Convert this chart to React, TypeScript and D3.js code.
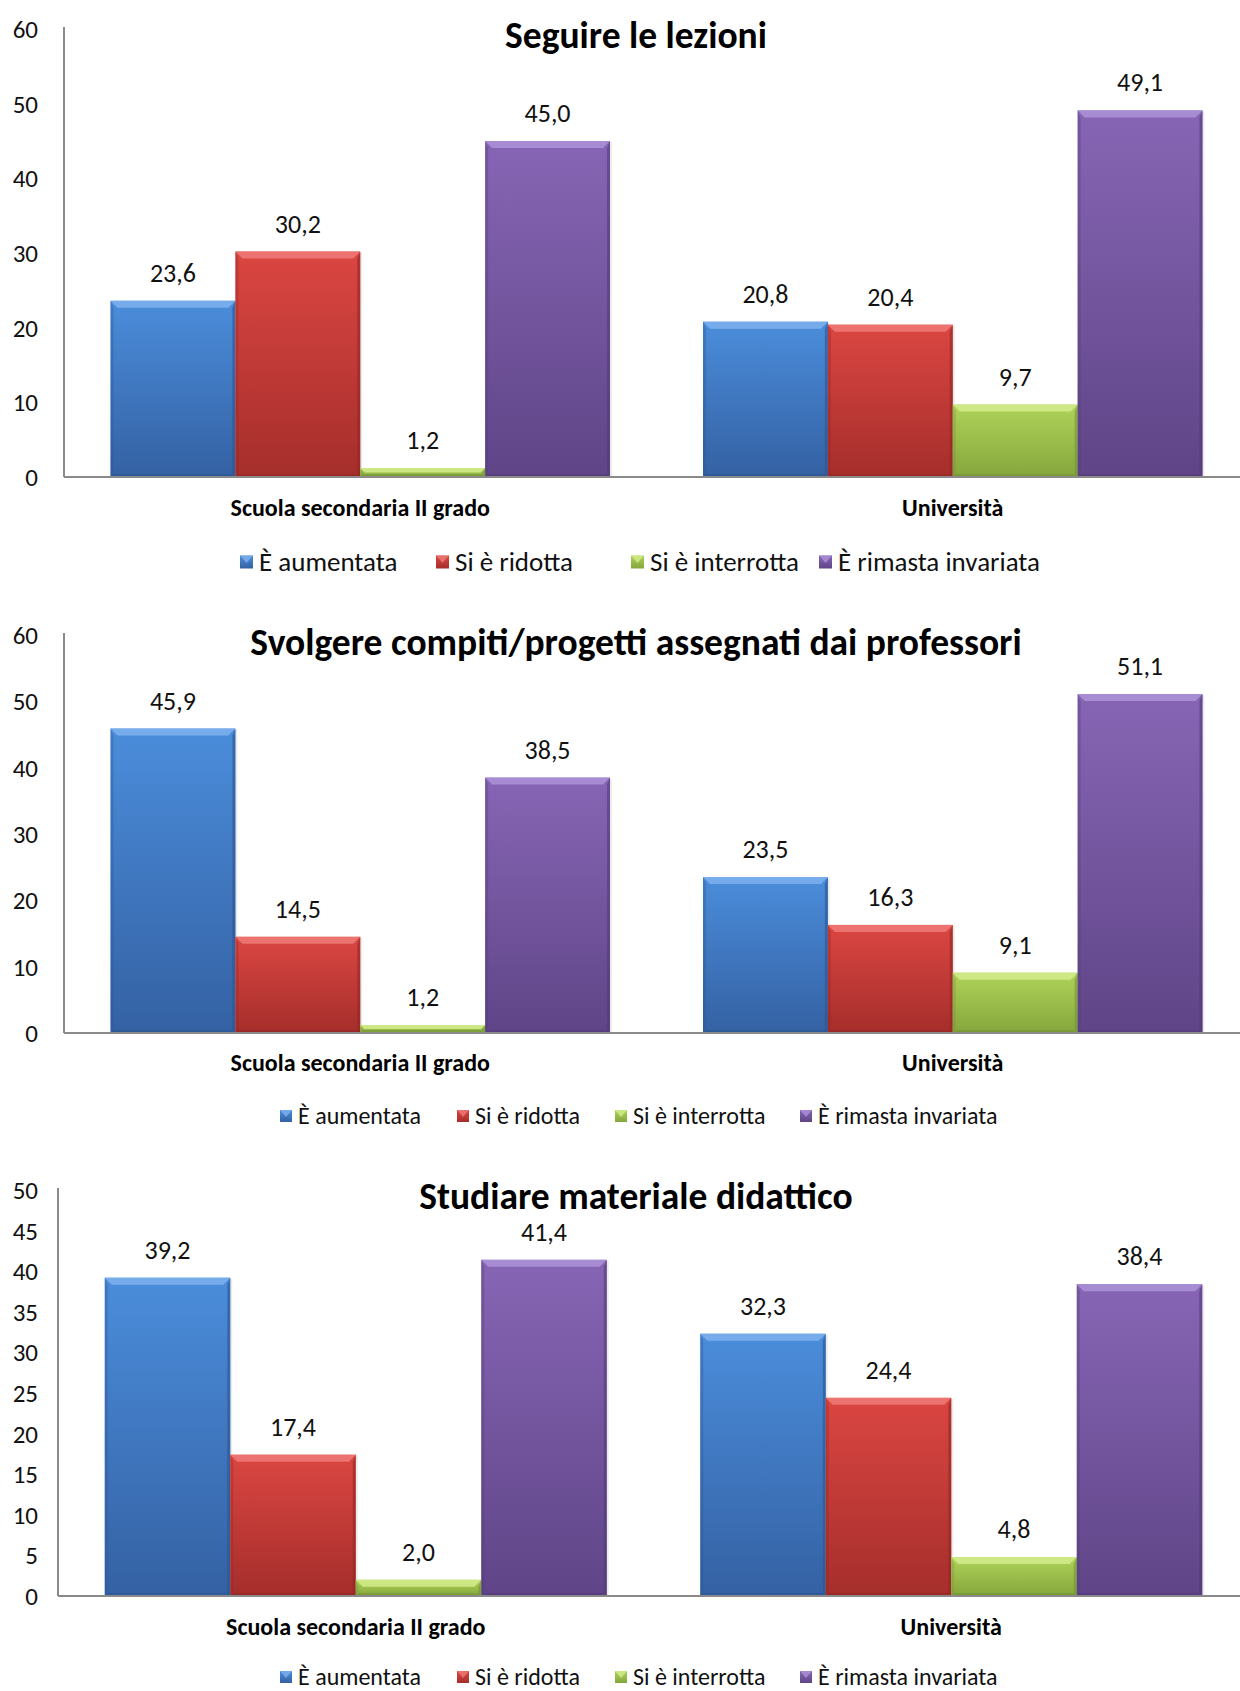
import React from "react";
import * as d3 from "d3";

const categories = ["Scuola secondaria II grado", "Università"];
const seriesNames = ["È aumentata", "Si è ridotta", "Si è interrotta", "È rimasta invariata"];

const titleLezioni = "Seguire le lezioni";
const titleCompiti = "Svolgere compiti/progetti assegnati dai professori";
const titleStudiare = "Studiare materiale didattico";

// values[category][series]
const lezioniValues = [
  [23.6, 30.2, 1.2, 45.0],
  [20.8, 20.4, 9.7, 49.1],
];
const compitiValues = [
  [45.9, 14.5, 1.2, 38.5],
  [23.5, 16.3, 9.1, 51.1],
];
const studiareValues = [
  [39.2, 17.4, 2.0, 41.4],
  [32.3, 24.4, 4.8, 38.4],
];

const ticks60 = [0, 10, 20, 30, 40, 50, 60];
const ticks50 = [0, 5, 10, 15, 20, 25, 30, 35, 40, 45, 50];

// styles
const palette = [
  { top: "#4b8ddb", bottom: "#3461a3", light: "#7fb2ee", dark: "#2c5590" },
  { top: "#db4642", bottom: "#a52e2b", light: "#ee7b78", dark: "#922624" },
  { top: "#b0d35a", bottom: "#84a63c", light: "#d2ec8c", dark: "#749334" },
  { top: "#8765b5", bottom: "#5f4587", light: "#ad92d8", dark: "#533b78" },
];

const FONT = "Carlito, Lato, 'Open Sans', sans-serif";

type ChartCfg = {
  title: string;
  values: number[][];
  ticks: number[];
  max: number;
  axisX: number;
  top: number;
  base: number;
  titleY: number;
  catY: number;
  legendY: number;
  legendSize: number;
  legendX: number[];
};

const charts: ChartCfg[] = [
  {
    title: titleLezioni, values: lezioniValues, ticks: ticks60, max: 60,
    axisX: 64, top: 29, base: 477, titleY: 48, catY: 516,
    legendY: 571, legendSize: 27, legendX: [240, 436, 631, 819],
  },
  {
    title: titleCompiti, values: compitiValues, ticks: ticks60, max: 60,
    axisX: 64, top: 635, base: 1033, titleY: 655, catY: 1071,
    legendY: 1124, legendSize: 24, legendX: [280, 457, 615, 800],
  },
  {
    title: titleStudiare, values: studiareValues, ticks: ticks50, max: 50,
    axisX: 58, top: 1190, base: 1596, titleY: 1209, catY: 1635,
    legendY: 1685, legendSize: 24, legendX: [280, 457, 615, 800],
  },
];

const RIGHT = 1249;
const fmt = (v: number) => v.toFixed(1).replace(".", ",");

function Bar({ x, y, w, h, si }: { x: number; y: number; w: number; h: number; si: number }) {
  const c = palette[si];
  const b = Math.min(7, h / 2);
  const s = Math.min(3, h / 2);
  return (
    <g>
      <rect x={x + 2} y={y + 1} width={w} height={h} fill="#000" opacity={0.08} />
      <rect x={x} y={y} width={w} height={h} fill={`url(#grad${si})`} />
      <polygon
        points={`${x},${y} ${x + w},${y} ${x + w - b},${y + b} ${x + b},${y + b}`}
        fill={c.light}
        opacity={0.85}
      />
      <polygon
        points={`${x},${y} ${x + s},${y + b} ${x + s},${y + h - s} ${x},${y + h}`}
        fill={c.dark}
        opacity={0.35}
      />
      <polygon
        points={`${x + w},${y} ${x + w - s},${y + b} ${x + w - s},${y + h - s} ${x + w},${y + h}`}
        fill={c.dark}
        opacity={0.6}
      />
      <polygon
        points={`${x},${y + h} ${x + s},${y + h - s} ${x + w - s},${y + h - s} ${x + w},${y + h}`}
        fill={c.dark}
        opacity={0.6}
      />
    </g>
  );
}

function Chart({ cfg }: { cfg: ChartCfg }) {
  const y = d3.scaleLinear().domain([0, cfg.max]).range([cfg.base, cfg.top]);
  const x0 = d3.scaleBand<string>().domain(categories).range([cfg.axisX, RIGHT]).paddingInner(0.157).paddingOuter(0.0785);
  const x1 = d3.scaleBand<string>().domain(seriesNames).range([0, x0.bandwidth()]).padding(0);
  const ms = cfg.legendSize > 25 ? 13 : 12;
  return (
    <g>
      <text x={636} y={cfg.titleY} textAnchor="middle" fontFamily={FONT} fontWeight="bold" fontSize={37.5} fill="#000">
        {cfg.title}
      </text>
      {cfg.ticks.map((t) => (
        <text key={t} x={38} y={y(t) + 9} textAnchor="end" fontFamily={FONT} fontSize={25} fill="#111">
          {t}
        </text>
      ))}
      {categories.map((cat, ci) => (
        <g key={cat}>
          {seriesNames.map((sn, si) => {
            const v = cfg.values[ci][si];
            const bx = (x0(cat) as number) + (x1(sn) as number);
            const by = y(v);
            const bw = x1.bandwidth();
            return (
              <g key={sn}>
                <Bar x={bx} y={by} w={bw} h={cfg.base - by} si={si} />
                <text x={bx + bw / 2} y={by - 19} textAnchor="middle" fontFamily={FONT} fontSize={26} fill="#111">
                  {fmt(v)}
                </text>
              </g>
            );
          })}
          <text
            x={(x0(cat) as number) + x0.bandwidth() / 2}
            y={cfg.catY}
            textAnchor="middle"
            fontFamily={FONT}
            fontWeight="bold"
            fontSize={24}
            fill="#000"
          >
            {cat}
          </text>
        </g>
      ))}
      <line x1={cfg.axisX} x2={cfg.axisX} y1={cfg.top - 2} y2={cfg.base} stroke="#8a8a8a" strokeWidth={2} />
      <line x1={cfg.axisX} x2={1240} y1={cfg.base} y2={cfg.base} stroke="#8a8a8a" strokeWidth={2} />
      {seriesNames.map((sn, si) => {
        const mx = cfg.legendX[si];
        const my = cfg.legendY - (cfg.legendSize > 25 ? 9 : 8);
        return (
          <g key={sn}>
            <rect x={mx} y={my - ms / 2} width={ms} height={ms} fill={`url(#grad${si})`} />
            <polygon
              points={`${mx},${my - ms / 2} ${mx + ms},${my - ms / 2} ${mx + ms / 2},${my + 1}`}
              fill={palette[si].light}
              opacity={0.8}
            />
            <text x={mx + ms + 6} y={cfg.legendY} fontFamily={FONT} fontSize={cfg.legendSize} fill="#111">
              {sn}
            </text>
          </g>
        );
      })}
    </g>
  );
}

export default function App() {
  return (
    <svg
      width={1240}
      height={1691}
      viewBox="0 0 1240 1691"
      style={{ position: "absolute", left: 0, top: 0, background: "#fff" }}
    >
      <defs>
        {palette.map((c, i) => (
          <linearGradient key={i} id={`grad${i}`} x1="0" y1="0" x2="0" y2="1">
            <stop offset="0" stopColor={c.top} />
            <stop offset="1" stopColor={c.bottom} />
          </linearGradient>
        ))}
      </defs>
      <rect x={0} y={0} width={1240} height={1691} fill="#fff" />
      {charts.map((cfg, i) => (
        <Chart key={i} cfg={cfg} />
      ))}
    </svg>
  );
}
